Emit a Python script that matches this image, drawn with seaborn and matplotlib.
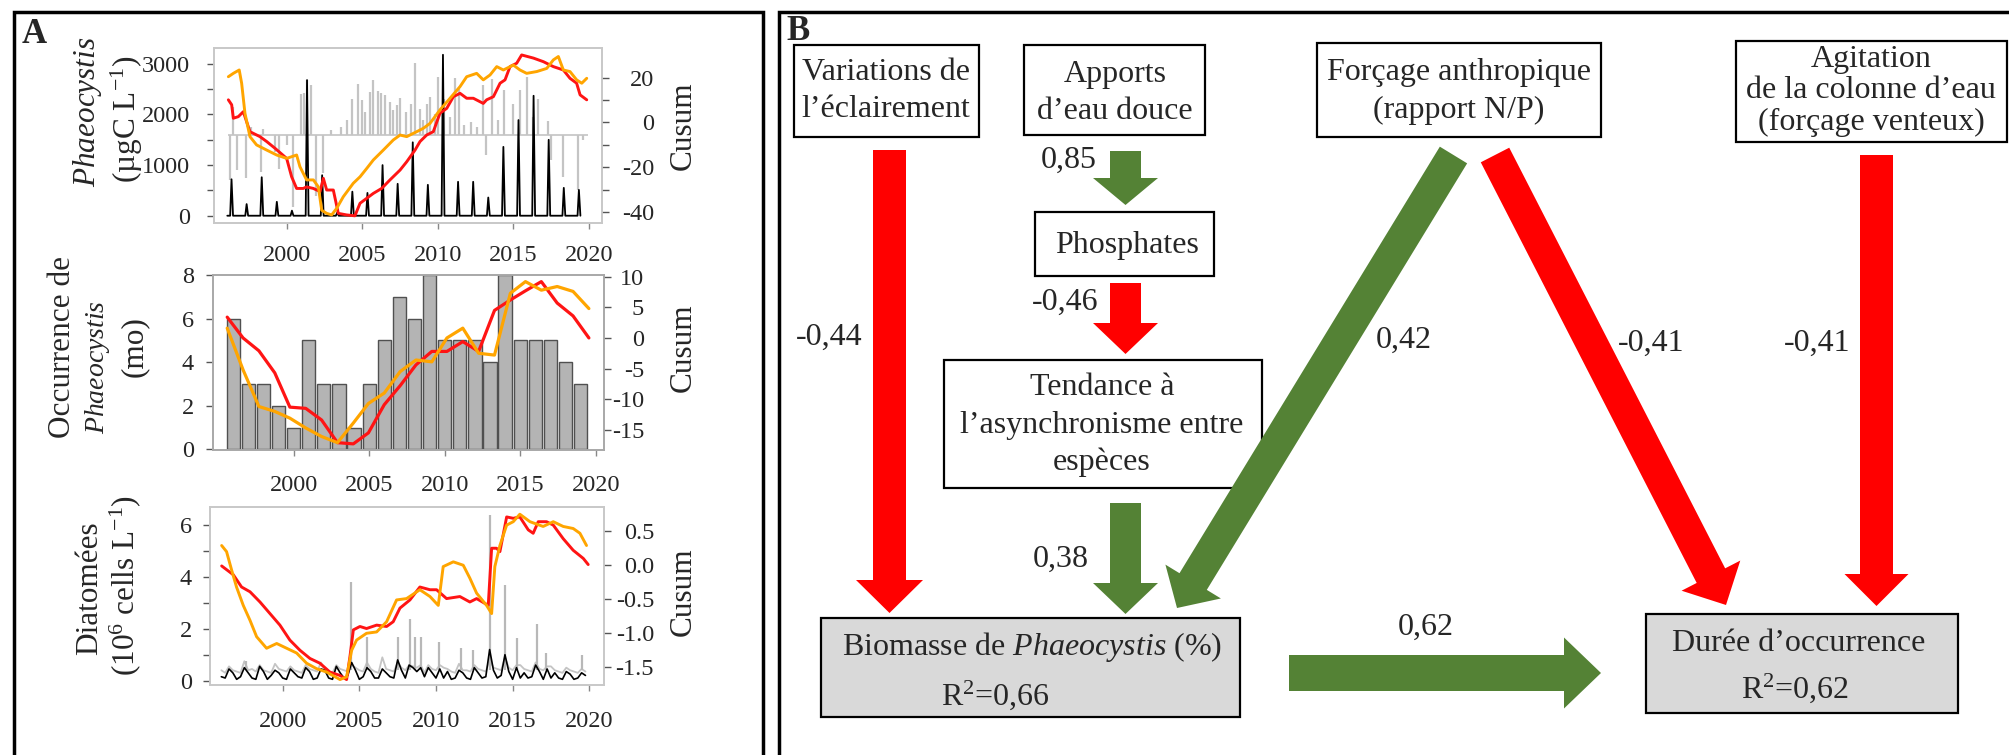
import matplotlib
matplotlib.use("Agg")
import matplotlib.pyplot as plt
import seaborn as sns
from matplotlib.patches import FancyArrow, Rectangle

# ---------------- panel A data ----------------
years = list(range(1996, 2020))

# Phaeocystis biomass (µgC/L): spring bloom peak of each year
phaeo_peak = [720, 230, 760, 275, 100, 2680, 800, 60, 475, 450, 1000, 630,
              1450, 610, 3180, 670, 670, 360, 1360, 1890, 2370, 1500, 550, 510]
# grey anomaly spikes around a baseline
phaeo_base = 1600
phaeo_anom_t = [1996.2, 1996.45, 1996.7, 1997.3, 1997.6, 1998.3, 1998.4, 1999.2, 1999.5,
                2000.0, 2000.4, 2000.9, 2001.1, 2001.3, 2001.6, 2001.9, 2002.4, 2002.9,
                2003.6, 2004.0, 2004.3, 2004.7, 2005.0, 2005.2, 2005.5, 2005.7, 2006.0,
                2006.2, 2006.5, 2006.8, 2007.0, 2007.3, 2007.5, 2007.9, 2008.2, 2008.5,
                2008.8, 2009.0, 2009.3, 2009.5, 2009.8, 2010.0, 2010.4, 2010.8, 2011.1,
                2011.4, 2011.7, 2012.2, 2012.6, 2013.0, 2013.2, 2013.6, 2014.0, 2014.4,
                2015.0, 2015.4, 2015.9, 2016.3, 2016.6, 2017.3, 2017.5, 2018.3, 2019.3,
                2019.6]
phaeo_anom_v = [700, 2150, 900, 740, 1750, 870, 1720, 1250, 920,
                1400, 180, 2400, 2430, 2680, 2590, 380, 840, 1700,
                1750, 1900, 2300, 2610, 2280, 2050, 2450, 2680, 2470,
                2420, 2380, 2250, 2090, 2180, 2320, 2050, 2200, 3010,
                2100, 1890, 2200, 2350, 2000, 2750, 2300, 1950, 2720,
                2500, 1800, 1860, 1750, 2580, 1200, 2700, 1900, 2480,
                2200, 2480, 2750, 1950, 2300, 1870, 1100, 760, 500,
                1500]
# cusum curves (right axis)
phaeo_red_t = [1996.12, 1996.34, 1996.45, 1996.78, 1997.11, 1997.55, 1998.21, 1998.66,
               1999.21, 1999.98, 2000.31, 2000.64, 2001.08, 2001.30, 2001.75, 2002.19,
               2002.41, 2002.63, 2003.07, 2003.40, 2003.95, 2004.50, 2004.84, 2005.28,
               2005.72, 2006.27, 2006.82, 2007.49, 2007.93, 2008.48, 2008.81, 2009.25,
               2009.69, 2010.13, 2010.58, 2011.02, 2011.46, 2011.90, 2012.34, 2013.00,
               2013.22, 2013.67, 2014.11, 2014.44, 2014.77, 2015.21, 2015.54, 2016.32,
               2016.98, 2017.64, 2018.30, 2018.74, 2019.18, 2019.41, 2019.85]
phaeo_red_v = [10.1, 7.9, 1.9, 2.6, 4.8, -4.1, -6.3, -8.5, -11.5, -16.0, -24.2, -29.4,
               -29.4, -28.7, -29.4, -30.8, -24.9, -30.1, -30.1, -40.5, -41.2, -41.6,
               -36.0, -33.8, -31.6, -29.4, -25.6, -21.2, -17.5, -12.3, -8.5, -5.6, -4.1,
               4.1, 6.3, 11.5, 13.0, 10.8, 10.8, 8.5, 10.1, 11.5, 17.5, 19.0, 24.9, 26.4,
               30.1, 28.7, 27.1, 24.9, 23.4, 19.7, 17.5, 12.3, 10.1]
phaeo_orange_t = [1996.12, 1996.45, 1996.84, 1997.00, 1997.22, 1997.55, 1997.99, 1998.66,
                  1999.32, 1999.98, 2000.64, 2000.86, 2001.30, 2001.75, 2002.08, 2002.30,
                  2002.63, 2002.96, 2003.29, 2003.73, 2004.39, 2004.84, 2005.28, 2005.72,
                  2006.38, 2007.04, 2007.49, 2007.93, 2008.59, 2009.03, 2009.47, 2010.13,
                  2010.80, 2011.46, 2011.90, 2012.56, 2013.00, 2013.45, 2013.89, 2014.33,
                  2014.99, 2015.43, 2015.87, 2016.54, 2017.20, 2017.64, 2017.97, 2018.30,
                  2018.74, 2019.18, 2019.52, 2019.85]
phaeo_orange_v = [20.4, 21.9, 23.4, 17.5, 4.1, -6.3, -10.0, -12.3, -14.5, -16.0, -14.5,
                  -19.7, -25.6, -25.6, -28.7, -39.1, -40.5, -41.2, -38.3, -33.1, -27.1,
                  -24.2, -20.5, -16.7, -12.3, -7.8, -5.6, -6.3, -4.1, -2.6, -0.4, 5.6,
                  10.8, 16.0, 20.4, 21.9, 19.0, 21.2, 24.9, 23.4, 25.6, 23.4, 21.9, 22.7,
                  24.1, 27.9, 29.4, 23.4, 22.7, 19.0, 17.5, 19.7]

# occurrence of Phaeocystis (months per year)
occ_months = [6, 3, 3, 2, 1, 5, 3, 3, 1, 3, 5, 7, 6, 8, 5, 5, 5, 4, 8, 5, 5, 5, 4, 3]
occ_line_t = [1995.6, 1996.65, 1997.7, 1998.75, 1999.75, 2000.8, 2001.85, 2002.9,
              2003.95, 2004.95, 2006.0, 2007.05, 2008.1, 2009.15, 2010.15, 2011.2,
              2012.25, 2013.3, 2014.35, 2015.35, 2016.4, 2017.45, 2018.5, 2019.55]
occ_red = [3.4, 0.0, -2.1, -5.7, -11.3, -11.5, -13.4, -17.1, -17.3, -15.5, -10.9, -7.8,
           -4.4, -2.2, -2.2, -0.6, -2.2, 4.5, 6.2, 7.7, 9.2, 5.7, 3.6, 0.0]
occ_orange = [1.6, -5.2, -11.2, -12.0, -13.1, -14.7, -16.1, -17.1, -13.9, -10.7, -9.0,
              -5.5, -3.6, -3.9, 0.0, 1.6, -2.5, -2.8, 7.3, 9.2, 7.8, 8.4, 7.6, 4.8]

# diatoms (10^6 cells/L), four readings a year plus the narrow bloom spikes
diat_t = [yr + q for yr in years for q in (0.0, 0.25, 0.5, 0.75)]
diat_grey = [0.4, 0.3, 0.55, 0.4, 0.35, 0.3, 0.75, 0.4, 0.45, 0.35, 0.6, 0.4,
             0.35, 0.3, 0.65, 0.45, 0.4, 0.35, 0.55, 0.4, 0.35, 0.3, 0.6, 0.45,
             0.4, 0.35, 0.7, 0.4, 0.35, 0.3, 0.6, 0.45, 0.4, 0.35, 0.6, 0.5,
             0.4, 0.35, 0.7, 0.45, 0.35, 0.3, 0.9, 0.45, 0.4, 0.35, 0.7, 0.5,
             0.4, 0.6, 0.55, 0.5, 0.6, 0.3, 0.6, 0.45, 0.4, 0.6, 0.5, 0.45,
             0.35, 0.3, 0.65, 0.4, 0.4, 0.35, 0.6, 0.45, 0.4, 0.35, 0.8, 0.5,
             0.45, 0.4, 0.9, 0.5, 0.4, 0.6, 0.6, 0.45, 0.4, 0.35, 0.7, 0.45,
             0.4, 0.55, 0.55, 0.4, 0.35, 0.3, 0.5, 0.4, 0.35, 0.3, 0.45, 0.35]
diat_black = [0.15, 0.1, 0.45, 0.3, 0.05, 0.15, 0.5, 0.3, 0.1, 0.05, 0.55, 0.35,
              0.05, 0.2, 0.4, 0.3, 0.1, 0.05, 0.45, 0.3, 0.15, 0.1, 0.5, 0.35,
              0.05, 0.1, 0.45, 0.4, 0.1, 0.05, 0.55, 0.3, 0.1, 0.2, 0.7, 0.4,
              0.05, 0.15, 0.5, 0.35, 0.1, 0.1, 0.45, 0.3, 0.15, 0.1, 0.8, 0.4,
              0.1, 0.6, 0.5, 0.35, 0.5, 0.15, 0.5, 0.3, 0.1, 0.45, 0.1, 0.35,
              0.05, 0.1, 0.4, 0.3, 0.1, 0.05, 0.5, 0.3, 0.1, 0.15, 1.2, 0.4,
              0.1, 0.2, 1.0, 0.35, 0.05, 0.5, 0.1, 0.3, 0.1, 0.15, 0.6, 0.35,
              0.05, 0.45, 0.1, 0.3, 0.1, 0.05, 0.35, 0.25, 0.05, 0.1, 0.3, 0.2]
diat_spike_t = [1997.6, 2004.45, 2005.5, 2007.5, 2008.3, 2008.6, 2009.0, 2010.2, 2011.6,
                2012.4, 2013.5, 2014.5, 2015.3, 2016.6, 2017.2, 2019.5]
diat_spike_v = [0.75, 3.8, 1.7, 1.7, 2.4, 1.7, 1.7, 1.5, 1.25, 1.2, 6.4, 3.7, 1.64,
                2.2, 1.06, 1.0]
diat_red_t = [1996.02, 1996.78, 1997.32, 1997.87, 1998.52, 1999.17, 1999.82, 2000.47,
              2001.13, 2001.78, 2002.43, 2003.08, 2003.74, 2004.17, 2004.39, 2004.61,
              2005.04, 2005.47, 2006.13, 2006.78, 2007.21, 2007.65, 2008.30, 2008.95,
              2009.61, 2010.04, 2010.69, 2011.56, 2012.21, 2012.65, 2013.41, 2013.63,
              2013.95, 2014.17, 2014.61, 2015.04, 2015.47, 2016.02, 2016.34, 2016.67,
              2017.21, 2017.65, 2018.30, 2018.95, 2019.61, 2019.93]
diat_red_v = [-0.02, -0.15, -0.33, -0.40, -0.55, -0.72, -0.89, -1.11, -1.26, -1.38,
              -1.45, -1.58, -1.63, -1.69, -1.35, -0.96, -0.91, -0.94, -0.89, -0.91,
              -0.84, -0.64, -0.52, -0.33, -0.37, -0.37, -0.50, -0.47, -0.55, -0.50,
              -0.60, 0.24, 0.24, 0.19, 0.70, 0.68, 0.70, 0.51, 0.46, 0.63, 0.63, 0.58,
              0.38, 0.21, 0.09, 0.0]
diat_orange_t = [1996.02, 1996.34, 1996.67, 1996.99, 1997.43, 1997.87, 1998.30, 1998.95,
                 1999.61, 2000.26, 2000.91, 2001.56, 2002.21, 2002.87, 2003.74, 2004.17,
                 2004.50, 2004.82, 2005.47, 2006.13, 2006.78, 2007.43, 2008.08, 2008.95,
                 2009.61, 2010.15, 2010.47, 2011.13, 2011.78, 2012.21, 2012.65, 2013.30,
                 2013.63, 2013.84, 2014.17, 2014.61, 2015.04, 2015.47, 2016.13, 2016.99,
                 2017.65, 2018.30, 2018.95, 2019.39, 2019.82]
diat_orange_v = [0.28, 0.19, -0.08, -0.33, -0.60, -0.82, -1.06, -1.23, -1.16, -1.23,
                 -1.30, -1.45, -1.53, -1.58, -1.69, -1.65, -1.26, -1.11, -1.01, -0.99,
                 -0.84, -0.52, -0.50, -0.37, -0.47, -0.60, -0.03, 0.04, -0.01, -0.20,
                 -0.42, -0.60, -0.72, -0.03, 0.28, 0.58, 0.63, 0.74, 0.63, 0.56, 0.63,
                 0.56, 0.53, 0.46, 0.28]

# ---------------- panel B data ----------------
node_lines = [
    ["Variations de", "l’éclairement"],
    ["Apports", "d’eau douce"],
    ["Forçage anthropique", "(rapport N/P)"],
    ["Agitation", "de la colonne d’eau", "(forçage venteux)"],
    ["Phosphates"],
    ["Tendance à", "l’asynchronisme entre", "espèces"],
    ["Biomasse de $\\mathit{Phaeocystis}$ (%)"],
    ["Durée d’occurrence"],
]
r2_values = [0.66, 0.62]          # for the two response nodes
path_coef = [-0.44, 0.85, -0.46, 0.38, 0.42, -0.41, -0.41, 0.62]


def fr(v):
    return f"{v:.2f}".replace(".", ",")


# ---------------- figure ----------------
sns.set_style("white")
plt.rcParams['font.family'] = ['Liberation Serif', 'DejaVu Serif']
plt.rcParams['mathtext.fontset'] = 'custom'
plt.rcParams['mathtext.rm'] = 'Liberation Serif'
plt.rcParams['mathtext.it'] = 'Liberation Serif:italic'
plt.rcParams['mathtext.bf'] = 'Liberation Serif:bold'
plt.rcParams['axes.unicode_minus'] = False

W, H = 2009, 755
fig = plt.figure(figsize=(W / 100, H / 100), dpi=100)

# overlay in pixel coordinates (frames, labels, path diagram)
ov = fig.add_axes([0, 0, 1, 1])
ov.set_xlim(0, W)
ov.set_ylim(H, 0)
ov.axis('off')


def ax_px(l, t, r, b):
    return fig.add_axes([l / W, 1 - b / H, (r - l) / W, (b - t) / H])


RED, ORANGE = '#ff1414', '#ffa500'
TICK = 17.5
xt = [2000, 2005, 2010, 2015, 2020]


def style(ax, axr, frame, xpad, lpad, rpad):
    for a in (ax, axr):
        for s in a.spines.values():
            s.set_color(frame)
            s.set_linewidth(1.2)
        a.set_xlabel('')
        a.set_ylabel('')
    ax.set_xticks(xt)
    ax.set_xticklabels([str(v) for v in xt])
    ax.tick_params(axis='x', bottom=True, direction='out', length=4, width=1,
                   color='#888888', labelsize=TICK, pad=xpad)
    ax.tick_params(axis='y', left=True, direction='out', length=5, width=1,
                   color='#555555', labelsize=TICK, pad=lpad)
    axr.tick_params(axis='y', right=True, left=False, direction='out', length=5,
                    width=1, color='#555555', labelsize=TICK, pad=rpad)
    axr.tick_params(axis='x', bottom=False, top=False, labelbottom=False)


# --- A1: Phaeocystis biomass ---
ax1 = ax_px(214, 48, 602, 223)
bl_t, bl_v = [], []
for yr, pk in zip(years, phaeo_peak):
    bl_t += [yr + 0.05, yr + 0.24, yr + 0.33, yr + 0.43]
    bl_v += [0, 0, pk, 0]
ax1.hlines(phaeo_base, 1996.1, 2019.9, color='#c4c4c4', lw=1.2)
ax1.vlines(phaeo_anom_t, phaeo_base, phaeo_anom_v, color='#c4c4c4', lw=1.6)
sns.lineplot(x=bl_t, y=bl_v, ax=ax1, color='black', lw=1.3, sort=False)
ax1.set_xlim(1995.17, 2020.86)
ax1.set_ylim(-144, 3314)
ax1.set_yticks(range(0, 3001, 500))
ax1.set_yticklabels(['0', '', '1000', '', '2000', '', '3000'])
ax1r = ax1.twinx()
sns.lineplot(x=phaeo_red_t, y=phaeo_red_v, ax=ax1r, color=RED, lw=2.1, sort=False)
sns.lineplot(x=phaeo_orange_t, y=phaeo_orange_v, ax=ax1r, color=ORANGE, lw=2.1, sort=False)
ax1r.set_ylim(-44.8, 33.2)
ax1r.set_yticks(range(-40, 21, 10))
ax1r.set_yticklabels(['-40', '', '-20', '', '0', '', '20'], ha='right')
style(ax1, ax1r, '#c8c8c8', 11.9, 12.2, 32.4)

# --- A2: occurrence ---
ax2 = ax_px(213, 275, 604, 450)
sns.barplot(x=years, y=occ_months, native_scale=True, ax=ax2, color='#b4b4b4',
            edgecolor='#505050', linewidth=1.0, width=0.88, errorbar=None,
            saturation=1)
ax2.set_xlim(1994.66, 2020.55)
ax2.set_ylim(-0.03, 8.0)
ax2.set_yticks([0, 2, 4, 6, 8])
ax2r = ax2.twinx()
sns.lineplot(x=occ_line_t, y=occ_red, ax=ax2r, color=RED, lw=2.3, sort=False)
sns.lineplot(x=occ_line_t, y=occ_orange, ax=ax2r, color=ORANGE, lw=2.3, sort=False)
ax2r.set_ylim(-18.3, 10.28)
ax2r.set_yticks([-15, -10, -5, 0, 5, 10])
ax2r.set_yticklabels(['-15', '-10', '-5', '0', '5', '10'], ha='right')
style(ax2, ax2r, '#a8a8a8', 13.8, 8.6, 23.8)

# --- A3: diatoms ---
ax3 = ax_px(210, 507, 604, 685)
sns.lineplot(x=diat_t, y=diat_grey, ax=ax3, color='#c4c4c4', lw=1.3, sort=False)
ax3.vlines(diat_spike_t, 0.4, diat_spike_v, color='#b8b8b8', lw=1.6)
sns.lineplot(x=diat_t, y=diat_black, ax=ax3, color='black', lw=1.2, sort=False)
ax3.set_xlim(1995.26, 2020.96)
ax3.set_ylim(-0.17, 6.71)
ax3.set_yticks(range(0, 7))
ax3.set_yticklabels(['0', '', '2', '', '4', '', '6'])
ax3r = ax3.twinx()
sns.lineplot(x=diat_red_t, y=diat_red_v, ax=ax3r, color=RED, lw=2.1, sort=False)
sns.lineplot(x=diat_orange_t, y=diat_orange_v, ax=ax3r, color=ORANGE, lw=2.1, sort=False)
ax3r.set_ylim(-1.77, 0.846)
ax3r.set_yticks([-1.5, -1.0, -0.5, 0.0, 0.5])
ax3r.set_yticklabels(['-1.5', '-1.0', '-0.5', '0.0', '0.5'], ha='right')
style(ax3, ax3r, '#c8c8c8', 14.4, 7.9, 31.0)

# --- panel A axis titles ---
LAB = 22.5
ov.text(88, 112, '$\\mathit{Phaeocystis}$', rotation=90, ha='center', va='center', fontsize=LAB)
ov.text(127, 119, '(µgC L$^{-1}$)', rotation=90, ha='center', va='center', fontsize=LAB)
ov.text(62, 347, 'Occurrence de', rotation=90, ha='center', va='center', fontsize=LAB)
ov.text(98, 367, '$\\mathit{Phaeocystis}$', rotation=90, ha='center', va='center', fontsize=20)
ov.text(134, 347, '(mo)', rotation=90, ha='center', va='center', fontsize=LAB)
ov.text(90, 588, 'Diatomées', rotation=90, ha='center', va='center', fontsize=LAB)
ov.text(125, 586, '(10$^6$ cells L$^{-1}$)', rotation=90, ha='center', va='center', fontsize=LAB)
for cy in (126, 348, 592):
    ov.text(683, cy, 'Cusum', rotation=90, ha='center', va='center', fontsize=LAB)

# --- panel frames and letters ---
ov.plot([14, 14, 762.5, 762.5], [770, 11.5, 11.5, 770], color='black', lw=2.5,
        solid_joinstyle='miter')
ov.plot([778.5, 778.5, 2020], [770, 11.5, 11.5], color='black', lw=2.5,
        solid_joinstyle='miter')
ov.text(22, 43, 'A', fontsize=25, fontweight='bold', ha='left', va='baseline')
ov.text(786, 40, 'B', fontsize=25, fontweight='bold', ha='left', va='baseline')

# --- panel B: path diagram ---
BOX = 23
node_box = [(794, 45, 979, 137), (1024, 45, 1205, 135), (1317, 43, 1601, 137),
            (1736, 41, 2007, 142), (1035, 212, 1214, 276), (944, 360, 1262, 488),
            (821, 618, 1240, 717), (1646, 614, 1958, 713)]
node_fill = ['white'] * 6 + ['#d9d9d9'] * 2
node_line_xy = [[(886, 80), (886, 117)],
                [(1115, 82), (1115, 119)],
                [(1459, 80), (1459, 118)],
                [(1871, 67), (1871, 98), (1871, 130)],
                [(1127, 253)],
                [(1102, 395), (1102, 433), (1102, 470)],
                [(1032, 655), (995, 705)],
                [(1799, 651), (1795, 698)]]

for i, (box, fill) in enumerate(zip(node_box, node_fill)):
    l, t, r, b = box
    ov.add_patch(Rectangle((l, t), r - l, b - t, facecolor=fill, edgecolor='black',
                           lw=1.6, zorder=2))
    lines = list(node_lines[i])
    if i >= 6:
        lines.append('R$^2$=' + fr(r2_values[i - 6]))
    for txt, (x, y) in zip(lines, node_line_xy[i]):
        ov.text(x, y, txt, ha='center', va='baseline', fontsize=BOX, zorder=4)

# arrows: tail x, tail y, tip x, tip y, shaft width, head width, head length
arrow_geom = [(889.5, 150, 889.5, 613, 33, 67, 33),
              (1125.5, 151, 1125.5, 205, 31, 65, 27),
              (1125.5, 283, 1125.5, 354, 31, 65, 31),
              (1125.5, 503, 1125.5, 614, 31, 65, 31),
              (1453.5, 155, 1177, 608, 32, 65, 31),
              (1495, 155, 1726, 605, 32, 66, 33),
              (1876.5, 155, 1876.5, 606, 33, 64, 32),
              (1289, 673, 1601, 673, 36, 71, 37)]
coef_xy = [(829, 345), (1069, 168), (1065, 310), (1061, 567),
           (1404, 348), (1651, 351), (1817, 351), (1426, 635)]

for coef, (x0, y0, x1, y1, w, hw, hl), (tx, ty) in zip(path_coef, arrow_geom, coef_xy):
    col = '#ff0000' if coef < 0 else '#548235'
    ov.add_patch(FancyArrow(x0, y0, x1 - x0, y1 - y0, width=w, head_width=hw,
                            head_length=hl, length_includes_head=True,
                            facecolor=col, edgecolor='none', zorder=3))
    ov.text(tx, ty, fr(coef), ha='center', va='baseline', fontsize=BOX, zorder=4)

fig.savefig('out.png', dpi=100)
